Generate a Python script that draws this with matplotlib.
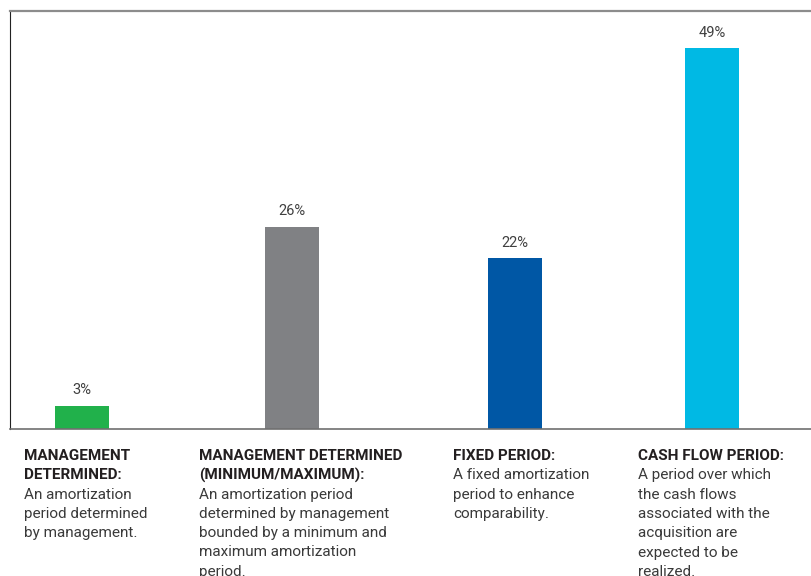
import matplotlib
matplotlib.use("Agg")
import matplotlib.pyplot as plt

# amortization approaches, share of respondents (%)
categories = ["MANAGEMENT\nDETERMINED:",
              "MANAGEMENT DETERMINED\n(MINIMUM/MAXIMUM):",
              "FIXED PERIOD:",
              "CASH FLOW PERIOD:"]
descriptions = ["An amortization\nperiod determined\nby management.",
                "An amortization period\ndetermined by management\nbounded by a minimum and\nmaximum amortization\nperiod.",
                "A fixed amortization\nperiod to enhance\ncomparability.",
                "A period over which\nthe cash flows\nassociated with the\nacquisition are\nexpected to be\nrealized."]
shares = [3, 26, 22, 49]
colors = ["#21b14b", "#808184", "#0057a5", "#00b9e4"]

W, H = 811, 576
plt.rcParams["font.family"] = ["Roboto", "DejaVu Sans"]

fig = plt.figure(figsize=(W / 100, H / 100), dpi=100)
ax = fig.add_axes([10 / W, 1 - 429 / H, 1 - 10 / W, 418.5 / H])

# bar centres in pixels from the left spine
xpos = [72, 282, 505, 702]
bars = ax.bar(xpos, shares, width=54, color=colors)
ax.set_xlim(0, W - 10)
ax.set_ylim(0, 53.8)

for b, v in zip(bars, shares):
    ax.annotate(f"{v}%", (b.get_x() + b.get_width() / 2, v),
                xytext=(0, 6), textcoords="offset points",
                ha="center", va="bottom", fontsize=10.5,
                color="#404040")

ax.set_xticks([])
ax.set_yticks([])
ax.spines["right"].set_visible(False)
ax.spines["top"].set_color("#8c8c8c")
ax.spines["top"].set_linewidth(1.6)
ax.spines["left"].set_color("#222222")
ax.spines["left"].set_linewidth(0.8)
ax.spines["bottom"].set_color("#707070")
ax.spines["bottom"].set_linewidth(1.2)

# captions under the axis
text_x = [24, 199, 453, 638]
line_h = 19.3
top_y = 449
for x, head, body in zip(text_x, categories, descriptions):
    y = top_y
    for line in head.split("\n"):
        fig.text(x / W, 1 - y / H, line, ha="left", va="top",
                 fontsize=11, fontweight="bold", color="#231f20")
        y += line_h
    for line in body.split("\n"):
        fig.text(x / W, 1 - y / H, line, ha="left", va="top",
                 fontsize=11, color="#3a3a3a")
        y += line_h

fig.savefig("out.png", dpi=100)
